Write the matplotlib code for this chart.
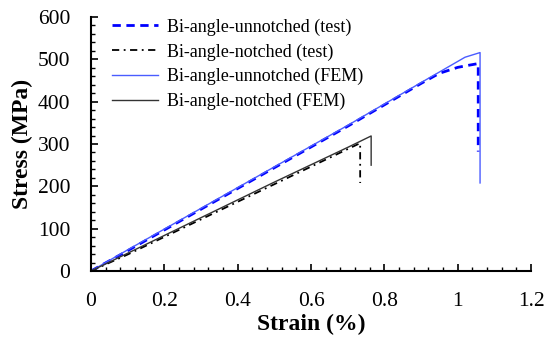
import matplotlib
matplotlib.use('Agg')
import matplotlib.pyplot as plt
from matplotlib.ticker import MultipleLocator

strain_un_test = [0, 0.1, 0.3, 0.5, 0.7, 0.9, 0.95, 1.0, 1.03, 1.056, 1.056, 1.056]
stress_un_test = [0, 48, 146, 244, 342, 443, 467, 481, 486, 490, 400, 282]
strain_no_test = [0, 0.1, 0.3, 0.5, 0.7, 0.734, 0.734]
stress_no_test = [0, 39, 122, 205, 288, 302, 208]
strain_un_fem = [0, 0.1, 0.3, 0.5, 0.7, 0.9, 1.02, 1.061, 1.061]
stress_un_fem = [0, 50, 148, 246, 344, 445, 505, 516, 208]
strain_no_fem = [0, 0.1, 0.3, 0.5, 0.7, 0.764, 0.764]
stress_no_fem = [0, 42, 126, 210, 292, 319, 250]

plt.rcParams['font.family'] = 'Liberation Serif'

fig = plt.figure(figsize=(5.5, 3.45), dpi=100)
ax = fig.add_axes([0.1655, 0.2145, 0.80, 0.7362])

ax.plot(strain_un_test, stress_un_test, '--', color='#0000ff', lw=2.0, dashes=(3, 2), label='Bi-angle-unnotched (test)')
ax.plot(strain_no_test, stress_no_test, '-.', color='black', lw=1.3, dashes=(4, 2.5, 1, 2.5), label='Bi-angle-notched (test)')
ax.plot(strain_un_fem, stress_un_fem, '-', color='#4a5cff', lw=1.0, label='Bi-angle-unnotched (FEM)')
ax.plot(strain_no_fem, stress_no_fem, '-', color='#333333', lw=1.0, label='Bi-angle-notched (FEM)')

ax.set_xlim(0, 1.2)
ax.set_ylim(0, 600)
ax.xaxis.set_major_locator(MultipleLocator(0.2))
ax.xaxis.set_minor_locator(MultipleLocator(0.04))
ax.yaxis.set_major_locator(MultipleLocator(100))
ax.yaxis.set_minor_locator(MultipleLocator(20))
ax.set_xticks([0, 0.2, 0.4, 0.6, 0.8, 1.0, 1.2])
ax.set_xticklabels(['0', '0.2', '0.4', '0.6', '0.8', '1', '1.2'])

for s in ['top', 'right']:
    ax.spines[s].set_visible(False)
for s in ['left', 'bottom']:
    ax.spines[s].set_linewidth(1.5)

ax.tick_params(which='major', direction='in', length=5, width=1.2, labelsize=15.5)
ax.tick_params(axis='x', which='major', pad=15)
ax.tick_params(axis='y', which='major', pad=15)
ax.tick_params(which='minor', direction='in', length=3, width=1.0)

ax.set_xlabel('Strain (%)', fontsize=17, fontweight='bold', labelpad=2)
ax.set_ylabel('Stress (MPa)', fontsize=17, fontweight='bold', labelpad=3)

ax.legend(loc='upper left', bbox_to_anchor=(0.032, 1.023), borderaxespad=0, frameon=False,
          fontsize=13, handlelength=2.55, handletextpad=0.5, labelspacing=0.42)

fig.savefig('out.png', dpi=100)
